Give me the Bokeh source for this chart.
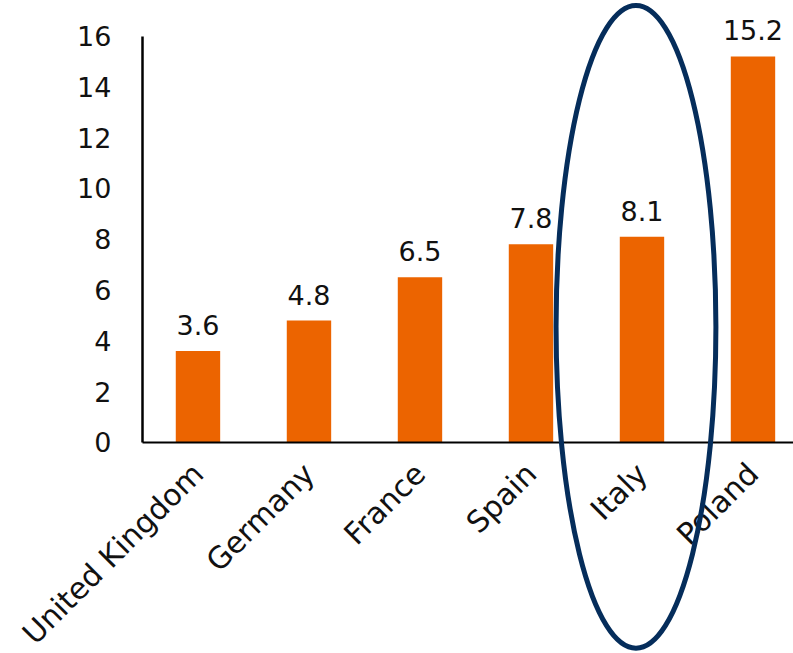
from math import pi
from bokeh.plotting import figure
from bokeh.models import Range1d, FixedTicker, LinearAxis, ColumnDataSource, LabelSet
from bokeh.core.properties import value
from bokeh.embed import file_html
from bokeh.resources import INLINE

# ---- data ----
countries = ["United Kingdom", "Germany", "France", "Spain", "Italy", "Poland"]
values = [3.6, 4.8, 6.5, 7.8, 8.1, 15.2]
value_labels = ["3.6", "4.8", "6.5", "7.8", "8.1", "15.2"]
y_ticks = [0, 2, 4, 6, 8, 10, 12, 14, 16]
highlight = "Italy"

# ---- style ----
FONT = "DejaVu Sans"
BAR_COLOR = "#EC6400"
NAVY = "#052D5B"
FS = "27px"
XFS = "30px"

positions = list(range(1, len(countries) + 1))
X_START, X_END = -0.779, 6.365
AXIS_X = 0.5

p = figure(width=793, height=653, output_backend="svg", toolbar_location=None,
           x_range=Range1d(X_START, X_END), y_range=Range1d(-8.31, 17.40),
           min_border_left=0, min_border_right=0, min_border_top=0, min_border_bottom=0,
           x_axis_location=None, y_axis_location=None)
p.outline_line_color = None
p.xgrid.visible = False
p.ygrid.visible = False
p.background_fill_color = "white"
p.border_fill_color = "white"

src = ColumnDataSource(dict(x=positions, top=values, label=value_labels))
p.vbar(x="x", top="top", bottom=0, width=0.4, source=src,
       fill_color=BAR_COLOR, line_color=None)

labels = LabelSet(x="x", y="top", text="label", source=src, text_align="center",
                  text_baseline="alphabetic", y_offset=16,
                  text_font=value(FONT), text_font_size=FS, text_color="#111111")
p.add_layout(labels)

yaxis = LinearAxis(ticker=FixedTicker(ticks=y_ticks), bounds=(0, 16), fixed_location=AXIS_X)
yaxis.major_tick_line_color = None
yaxis.minor_tick_line_color = None
yaxis.axis_line_width = 2.5
yaxis.axis_line_color = "black"
yaxis.major_label_text_font = FONT
yaxis.major_label_text_font_size = FS
yaxis.major_label_text_color = "#111111"
yaxis.major_label_standoff = 25
p.add_layout(yaxis, "left")

xaxis = LinearAxis(ticker=FixedTicker(ticks=positions), fixed_location=0, bounds=(AXIS_X, X_END))
xaxis.major_label_overrides = {pos: c for pos, c in zip(positions, countries)}
xaxis.major_label_orientation = pi / 4
xaxis.major_tick_line_color = None
xaxis.minor_tick_line_color = None
xaxis.axis_line_width = 2
xaxis.axis_line_color = "black"
xaxis.major_label_text_font = FONT
xaxis.major_label_text_font_size = XFS
xaxis.major_label_text_color = "#111111"
xaxis.major_label_standoff = 20
p.add_layout(xaxis, "below")

# highlight ellipse around the chosen country
hi = positions[countries.index(highlight)]
p.ellipse(x=[hi - 0.054], y=[4.55], width=1.44, height=25.3,
          fill_color=None, line_color=NAVY, line_width=5, level="overlay")

open("out.html", "w").write(file_html(p, INLINE))
